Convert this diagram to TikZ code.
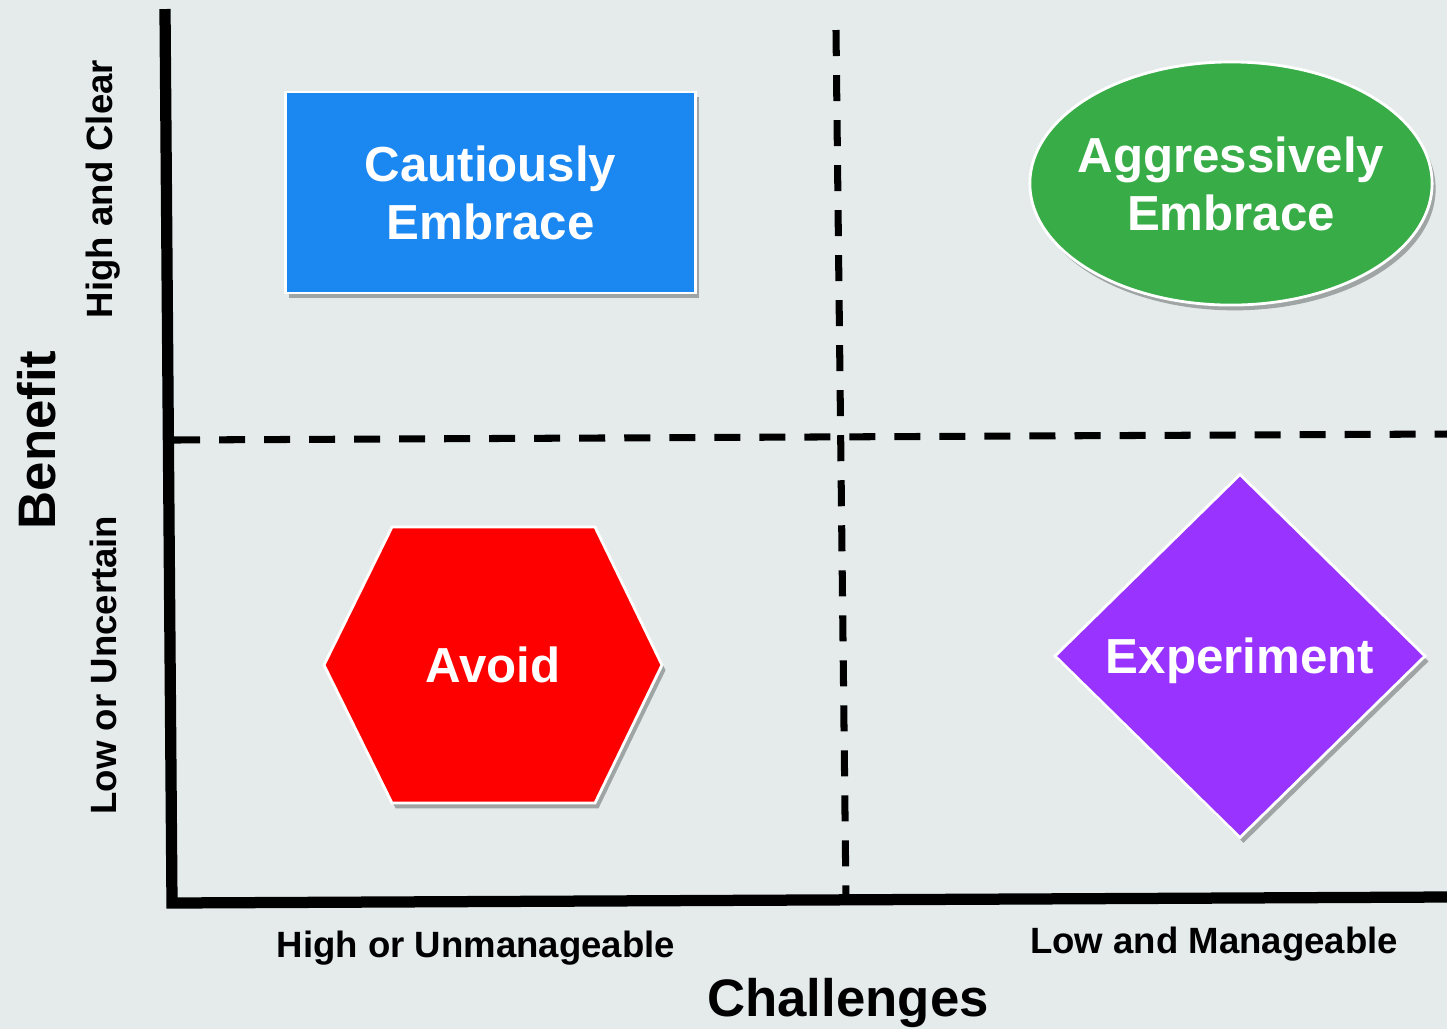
\documentclass[tikz,border=0pt]{standalone}
\usepackage{fontspec}
\setmainfont{Liberation Sans}
\usetikzlibrary{shapes.geometric,shadows}
\definecolor{bgcol}{HTML}{E5EBEB}
\definecolor{boxblue}{HTML}{1B87F0}
\definecolor{ovalgreen}{HTML}{37AC47}
\definecolor{hexred}{HTML}{FF0000}
\definecolor{diampurple}{HTML}{9933FF}
\begin{document}
\begin{tikzpicture}[x=0.01cm,y=-0.01cm,
    shadowed/.style={draw=white,line width=0.8pt,
      drop shadow={shadow xshift=1pt,shadow yshift=-1.5pt,fill=black,opacity=0.3}},
    lbl/.style={text=white,font=\fontsize{14}{16.5}\selectfont\bfseries,align=center,inner sep=0pt},
    quad/.style={shadowed,lbl},
    axis/.style={line width=3.2pt,line join=miter},
    divider/.style={line width=2pt,dash pattern=on 0.26cm off 0.19cm},
    lvl/.style={font=\fontsize{10.4}{12}\selectfont\bfseries},
    ttl/.style={font=\fontsize{15}{18}\selectfont\bfseries}]
	\fill[bgcol] (0,0) rectangle (1447,1029);
	\useasboundingbox (0,0) rectangle (1447,1029);

	% quadrant dividers
	\coordinate (vtop) at (836,30);
	\coordinate (vbot) at (846,900);
	\coordinate (hleft) at (174,440);
	\coordinate (hright) at (1447,434);
	\draw[divider] (vtop)--(vbot);
	\draw[divider] (hleft)--(hright);

	% axes
	\coordinate (ytop) at (165,9);
	\coordinate (O) at (172,903);
	\coordinate (xend) at (1447,897);
	\draw[axis] (ytop)--(O)--(xend);

	% quadrants
	\node[quad,fill=boxblue,minimum width=4.09cm,minimum height=2.01cm] (cautious) at (490.5,192.5) {Cautiously\\Embrace};
	\fill[ovalgreen,shadowed] (1231,183.5) ellipse [x radius=2.01cm,y radius=1.215cm];
	\node[lbl] (aggressive) at (1231,183.5) {Aggressively\\Embrace};
	\fill[hexred,shadowed] (324,665)--(392,527)--(595,527)--(662,665)--(595,803)--(392,803)--cycle;
	\node[lbl] (avoid) at (493,665) {Avoid};
	\node[quad,diamond,fill=diampurple,text depth=0pt,minimum width=3.71cm,minimum height=3.64cm] (experiment) at (1240,656) {Experiment};

	% axis labels
	\node[lvl,rotate=90] (hiben) at (103,189) {High and Clear};
	\node[lvl,rotate=90] (loben) at (103,665) {Low or Uncertain};
	\node[ttl,rotate=90] (benefit) at (37,440) {Benefit};
	\node[lvl] (hichal) at (476,948) {High or Unmanageable};
	\node[lvl] (lochal) at (1214,944) {Low and Manageable};
	\node[ttl] (chal) at (848,1003) {Challenges};
\end{tikzpicture}
\end{document}
